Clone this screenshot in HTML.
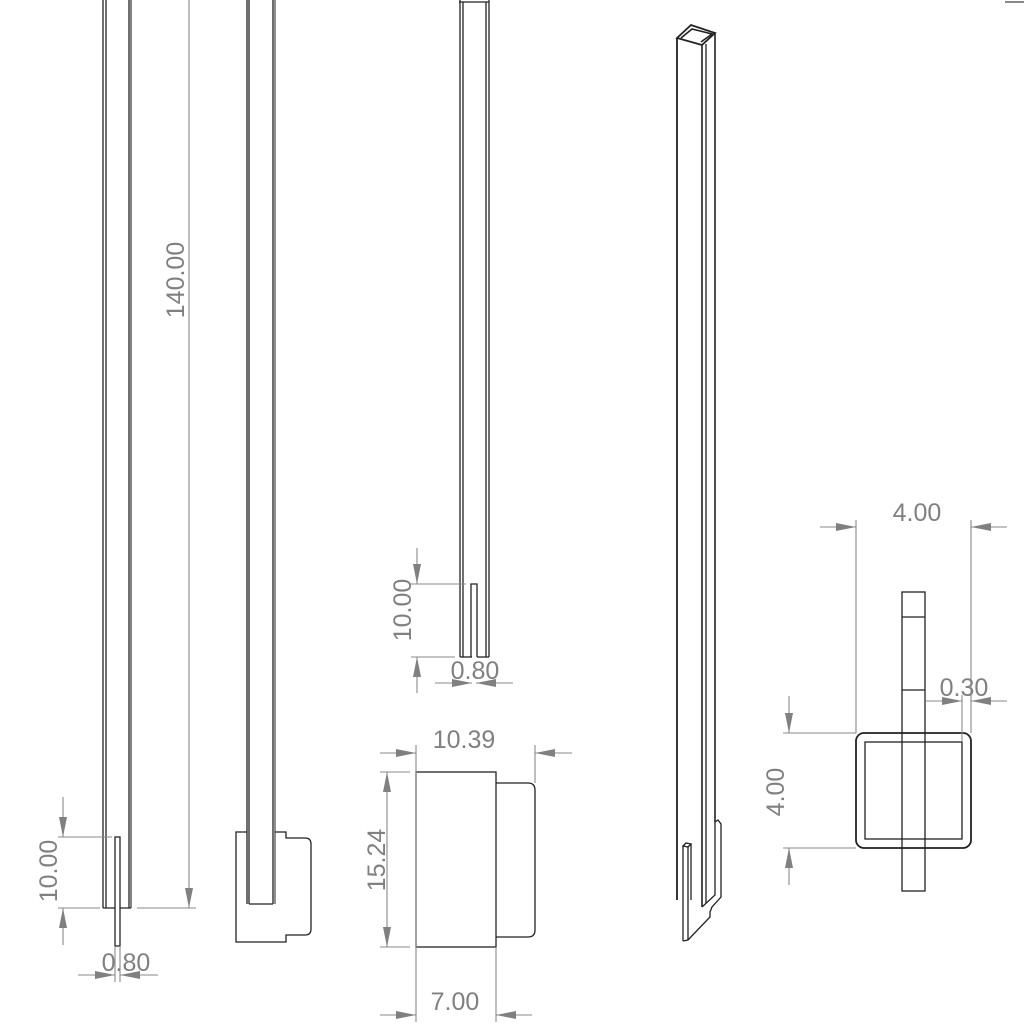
<!DOCTYPE html>
<html><head><meta charset="utf-8"><style>
html,body{margin:0;padding:0;background:#fff}
svg{display:block}
text{font-family:"Liberation Sans",sans-serif;font-size:25px;fill:#808080}
</style></head><body>
<svg width="1024" height="1024" viewBox="0 0 1024 1024" xmlns="http://www.w3.org/2000/svg">
<defs>
<marker id="a" viewBox="0 0 20 8" refX="20" refY="4" markerWidth="20" markerHeight="8" markerUnits="userSpaceOnUse" orient="auto">
<path d="M0,0 L20,4 L0,8 Z" fill="#808080"/></marker>
<marker id="b" viewBox="0 0 20 8" refX="20" refY="4" markerWidth="20" markerHeight="8" markerUnits="userSpaceOnUse" orient="auto-start-reverse"><path d="M0,0 L20,4 L0,8 Z" fill="#808080"/></marker>
</defs>
<g fill="none" stroke="#222" stroke-width="1.3">
<line x1="103" y1="0" x2="103" y2="908"/><line x1="106" y1="0" x2="106" y2="908"/>
<line x1="129" y1="0" x2="129" y2="908"/><line x1="131" y1="0" x2="131" y2="908" stroke="#666" stroke-width="1.6"/>
<line x1="103" y1="908" x2="131" y2="908"/>
<rect x="115" y="837" width="5" height="109" fill="#fff"/>
<line x1="247" y1="0" x2="247" y2="904"/><line x1="249" y1="0" x2="249" y2="904"/>
<line x1="273" y1="0" x2="273" y2="904"/><line x1="275" y1="0" x2="275" y2="904" stroke="#555"/>
<line x1="249" y1="904" x2="273" y2="904"/>
<path d="M247,832 H236 V942 H286 V935 H305 Q311,935 311,929 V844 Q311,838 305,838 H286 V832 H275"/>
<line x1="459" y1="2" x2="489" y2="2"/>
<line x1="460" y1="0" x2="460" y2="657"/><line x1="463" y1="2" x2="463" y2="657"/>
<line x1="486" y1="2" x2="486" y2="657"/><line x1="489" y1="0" x2="489" y2="657"/>
<line x1="460" y1="657" x2="472" y2="657"/><line x1="477" y1="657" x2="489" y2="657"/>
<path d="M471,657 V584 H477 V657"/>
<rect x="416" y="772" width="80" height="175"/>
<path d="M496,783 H528 Q535,783 535,790 V930 Q535,937 528,937 H496"/>
<rect x="856" y="733" width="115" height="115" rx="8" stroke-width="1.8"/>
<rect x="865" y="742" width="97" height="97"/>
<rect x="902" y="592" width="23" height="299"/>
<line x1="902" y1="617" x2="925" y2="617"/><line x1="902" y1="690" x2="925" y2="690"/>
<path d="M677,38 L691,25 L715,33 L702,45 Z" stroke-width="1.8"/>
<path d="M681,38 L692,29 L712,34 L701,42" stroke-width="1.6"/>
<line x1="677" y1="38" x2="677" y2="900" stroke-width="1.8"/>
<line x1="702" y1="45" x2="702" y2="907" stroke-width="1.6"/>
<line x1="706" y1="44" x2="706" y2="903"/>
<line x1="715" y1="33" x2="715" y2="822" stroke-width="1.6"/>
<path d="M715,822 L718,820 L721,824 V897 L712,907 L710,912 V917 L688,940 L683,941"/>
<path d="M715,822 V895 L702,907"/>
<path d="M683,846 L686,843 L691,844 L688,847 Z"/>
<line x1="683" y1="846" x2="683" y2="941"/><line x1="688" y1="847" x2="688" y2="940"/>
<line x1="691" y1="844" x2="691" y2="900"/>
</g>
<g stroke="#8a8a8a" stroke-width="1.1" fill="none">
<line x1="137" y1="908" x2="196" y2="908"/>
<line x1="189" y1="0" x2="189" y2="908" marker-end="url(#a)"/>
<line x1="58" y1="837" x2="112" y2="837"/><line x1="58" y1="908" x2="100" y2="908"/>
<line x1="63" y1="797" x2="63" y2="837" marker-end="url(#a)"/>
<line x1="63" y1="945" x2="63" y2="908" marker-end="url(#a)"/>
<line x1="115" y1="946" x2="115" y2="982"/><line x1="120" y1="946" x2="120" y2="982"/>
<line x1="78" y1="975" x2="115" y2="975" marker-end="url(#a)"/>
<line x1="158" y1="975" x2="120" y2="975" marker-end="url(#a)"/>
<line x1="410" y1="584" x2="466" y2="584"/><line x1="411" y1="657" x2="455" y2="657"/>
<line x1="417" y1="548" x2="417" y2="584" marker-end="url(#a)"/>
<line x1="417" y1="693" x2="417" y2="657" marker-end="url(#a)"/>
<line x1="435" y1="683" x2="472" y2="683" marker-end="url(#a)"/>
<line x1="513" y1="683" x2="476" y2="683" marker-end="url(#a)"/>
<line x1="416" y1="745" x2="416" y2="1022"/><line x1="535" y1="745" x2="535" y2="783"/>
<line x1="380" y1="753" x2="416" y2="753" marker-end="url(#a)"/>
<line x1="572" y1="753" x2="535" y2="753" marker-end="url(#a)"/>
<line x1="380" y1="772" x2="410" y2="772"/><line x1="380" y1="947" x2="410" y2="947"/>
<line x1="387" y1="772" x2="387" y2="947" marker-start="url(#b)" marker-end="url(#b)"/>
<line x1="496" y1="947" x2="496" y2="1022"/>
<line x1="380" y1="1015" x2="416" y2="1015" marker-end="url(#a)"/>
<line x1="532" y1="1015" x2="496" y2="1015" marker-end="url(#a)"/>
<line x1="856" y1="520" x2="856" y2="733"/><line x1="971" y1="520" x2="971" y2="733"/>
<line x1="820" y1="527" x2="856" y2="527" marker-end="url(#a)"/>
<line x1="1007" y1="527" x2="971" y2="527" marker-end="url(#a)"/>
<line x1="962" y1="695" x2="962" y2="742"/>
<line x1="926" y1="701" x2="962" y2="701" marker-end="url(#a)"/>
<line x1="1007" y1="701" x2="971" y2="701" marker-end="url(#a)"/>
<line x1="783" y1="733" x2="856" y2="733"/><line x1="783" y1="848" x2="856" y2="848"/>
<line x1="789" y1="696" x2="789" y2="733" marker-end="url(#a)"/>
<line x1="789" y1="885" x2="789" y2="848" marker-end="url(#a)"/>
<line x1="1005" y1="2" x2="1024" y2="2" stroke-width="2"/>
</g>
<text transform="translate(184,280) rotate(-90)" text-anchor="middle">140.00</text>
<text transform="translate(57,871) rotate(-90)" text-anchor="middle">10.00</text>
<text x="126" y="971" text-anchor="middle">0.80</text>
<text transform="translate(411,610) rotate(-90)" text-anchor="middle">10.00</text>
<text x="475" y="679" text-anchor="middle">0.80</text>
<text x="464" y="748" text-anchor="middle">10.39</text>
<text transform="translate(385,860) rotate(-90)" text-anchor="middle">15.24</text>
<text x="455" y="1010" text-anchor="middle">7.00</text>
<text x="917" y="521" text-anchor="middle">4.00</text>
<text x="964" y="696" text-anchor="middle">0.30</text>
<text transform="translate(784,792) rotate(-90)" text-anchor="middle">4.00</text>
</svg>
</body></html>
